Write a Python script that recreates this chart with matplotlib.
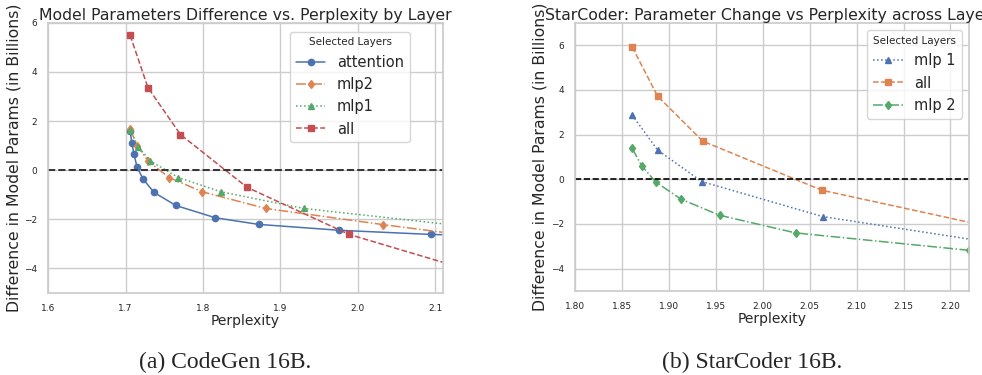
import matplotlib.pyplot as plt
import seaborn as sns

sns.set_theme(style="whitegrid", palette="deep")
pal = sns.color_palette("deep")

# CodeGen 16B
cg_attn_x = [1.706, 1.708, 1.711, 1.715, 1.723, 1.737, 1.765, 1.816, 1.872, 1.976, 2.095, 2.20]
cg_attn_y = [1.60, 1.12, 0.64, 0.11, -0.38, -0.91, -1.44, -1.94, -2.21, -2.45, -2.62, -2.70]
cg_mlp2_x = [1.706, 1.715, 1.729, 1.756, 1.799, 1.881, 2.033, 2.20]
cg_mlp2_y = [1.67, 0.99, 0.38, -0.30, -0.88, -1.56, -2.22, -2.90]
cg_mlp1_x = [1.706, 1.716, 1.732, 1.768, 1.823, 1.930, 2.20]
cg_mlp1_y = [1.64, 0.96, 0.38, -0.30, -0.88, -1.56, -2.50]
cg_all_x = [1.706, 1.729, 1.771, 1.857, 1.989, 2.20]
cg_all_y = [5.49, 3.36, 1.45, -0.70, -2.62, -4.60]

# StarCoder 16B
sc_mlp1_x = [1.861, 1.888, 1.935, 2.064, 2.25]
sc_mlp1_y = [2.87, 1.31, -0.10, -1.67, -2.87]
sc_all_x = [1.861, 1.888, 1.936, 2.063, 2.25]
sc_all_y = [5.92, 3.72, 1.71, -0.49, -2.20]
sc_mlp2_x = [1.861, 1.871, 1.886, 1.913, 1.954, 2.035, 2.22]
sc_mlp2_y = [1.38, 0.61, -0.12, -0.89, -1.61, -2.40, -3.18]

fig = plt.figure(figsize=(9.82, 3.75), dpi=100)
ax1 = fig.add_axes([0.049, 0.219, 0.402, 0.72])
ax2 = fig.add_axes([0.5855, 0.224, 0.4015, 0.715])

ms = 4.5
lw = 1.1
ax1.plot(cg_attn_x, cg_attn_y, '-o', color=pal[0], ms=ms, lw=lw, label='attention')
ax1.plot(cg_mlp2_x, cg_mlp2_y, '-.d', color=pal[1], ms=ms, lw=lw, label='mlp2')
ax1.plot(cg_mlp1_x, cg_mlp1_y, ':^', color=pal[2], ms=ms, lw=lw, label='mlp1')
ax1.plot(cg_all_x, cg_all_y, '--s', color=pal[3], ms=ms, lw=lw, label='all')
ax1.axhline(0, color='#333333', ls='--', lw=1.4)
ax1.set_xlim(1.6, 2.11)
ax1.set_ylim(-5, 6)
ax1.set_title('Model Parameters Difference vs. Perplexity by Layer', fontsize=11.3, pad=2)
ax1.legend(title='Selected Layers', fontsize=10.5, title_fontsize=7.5,
           loc='upper right', bbox_to_anchor=(0.935, 0.995))

ax2.plot(sc_mlp1_x, sc_mlp1_y, ':^', color=pal[0], ms=ms, lw=lw, label='mlp 1')
ax2.plot(sc_all_x, sc_all_y, '--s', color=pal[1], ms=ms, lw=lw, label='all')
ax2.plot(sc_mlp2_x, sc_mlp2_y, '-.d', color=pal[2], ms=ms, lw=lw, label='mlp 2')
ax2.axhline(0, color='black', ls='--', lw=1.2)
ax2.set_xlim(1.80, 2.22)
ax2.set_ylim(-5, 7)
ax2.set_xticks([1.80, 1.85, 1.90, 1.95, 2.00, 2.05, 2.10, 2.15, 2.20])
ax2.set_title('StarCoder: Parameter Change vs Perplexity across Layers', fontsize=11.3, pad=2)
ax2.legend(title='Selected Layers', fontsize=10.5, title_fontsize=7.5,
           loc='upper right', bbox_to_anchor=(1.0, 1.0))

for ax in (ax1, ax2):
    ax.set_xlabel('Perplexity', fontsize=10, labelpad=1)
    ax.set_ylabel('Difference in Model Params (in Billions)', fontsize=11.3, labelpad=2)
    ax.tick_params(labelsize=6.5, pad=2)

fig.text(0.229, 0.034, '(a) CodeGen 16B.', family='Liberation Serif', fontsize=17,
         ha='center', va='center')
fig.text(0.766, 0.034, '(b) StarCoder 16B.', family='Liberation Serif', fontsize=17,
         ha='center', va='center')

fig.savefig('out.png', dpi=100)
